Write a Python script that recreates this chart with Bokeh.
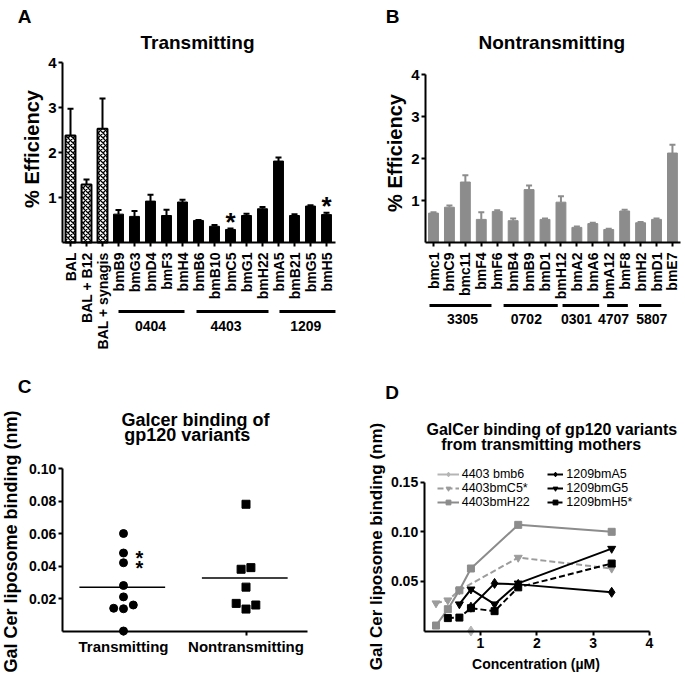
import numpy as np
from bokeh.plotting import figure
from bokeh.layouts import row, column
from bokeh.models import (ColumnDataSource, FixedTicker, Whisker, TeeHead, Label,
                          Range1d, Legend, LegendItem, NumeralTickFormatter)
from bokeh.core.properties import value
from bokeh.embed import file_html
from bokeh.resources import INLINE

FONT = "Liberation Sans"

# ---------------- data ----------------
# Panel A: transmitting
a_names = ["BAL", "BAL + B12", "BAL + synagis", "bmB9", "bmG3", "bmD4", "bmF3", "bmH4",
           "bmB6", "bmB10", "bmC5", "bmG1", "bmH22", "bmA5", "bmB21", "bmG5", "bmH5"]
a_vals = [2.38, 1.29, 2.53, 0.63, 0.58, 0.92, 0.60, 0.90, 0.49, 0.36, 0.29, 0.60, 0.75,
          1.81, 0.60, 0.81, 0.62]
a_err = [2.97, 1.40, 3.20, 0.72, 0.70, 1.06, 0.73, 0.95, 0.50, 0.39, 0.31, 0.64, 0.79,
         1.89, 0.63, 0.83, 0.66]
a_starred = ["bmC5", "bmH5"]
a_groups = ["0404", "4403", "1209"]
a_group_start = [3.0, 7.875, 13.06]
a_group_end = [7.125, 12.375, 16.56]
a_group_center = [5.0, 9.72, 14.7]

# Panel B: nontransmitting
b_names = ["bmc1", "bmC9", "bmc11", "bmF4", "bmF6", "bmB4", "bmB9", "bmD1", "bmH12",
           "bmA2", "bmA6", "bmA12", "bmF8", "bmH2", "bmD1", "bmE7"]
b_vals = [0.70, 0.84, 1.44, 0.55, 0.74, 0.52, 1.26, 0.55, 0.96, 0.36, 0.45, 0.31, 0.75,
          0.47, 0.55, 2.13]
b_err = [0.72, 0.88, 1.60, 0.72, 0.77, 0.57, 1.36, 0.57, 1.10, 0.38, 0.47, 0.33, 0.78,
         0.49, 0.57, 2.33]
b_groups = ["3305", "0702", "0301", "4707", "5807"]
b_group_start = [-0.25, 4.4, 8.1, 10.9, 12.9]
b_group_end = [3.64, 7.8, 10.4, 12.2, 14.3]
b_group_center = [1.82, 5.83, 8.98, 11.3, 13.7]

# Panel C: GalCer binding scatter
c_cats = ["Transmitting", "Nontransmitting"]
c_trans = [0.060, 0.048, 0.042, 0.028, 0.021, 0.014, 0.0137, 0.016, 0.0]
c_trans_jitter = [0, 0, 0, 0, 0, -0.08, 0, 0.08, 0]
c_trans_star = [False, True, True, False, False, False, False, False, False]
c_non = [0.078, 0.038, 0.039, 0.027, 0.017, 0.0135, 0.016]
c_non_jitter = [0, -0.04, 0.04, 0, -0.08, 0, 0.08]

# Panel D: binding vs concentration
d_labels = ["4403 bmb6", "4403bmC5*", "4403bmH22", "1209bmA5", "1209bmG5", "1209bmH5*"]
d_bmb6_x = [0.83]
d_bmb6_y = [0.0]
d_c5_x = [0.21, 0.42, 0.625, 1.67, 3.33]
d_c5_y = [0.028, 0.031, 0.041, 0.074, 0.063]
d_h22_x = [0.21, 0.42, 0.625, 0.83, 1.67, 3.33]
d_h22_y = [0.0055, 0.022, 0.041, 0.063, 0.107, 0.100]
d_a5_x = [0.83, 1.25, 1.67, 3.33]
d_a5_y = [0.024, 0.048, 0.047, 0.039]
d_g5_x = [0.625, 0.83, 1.25, 1.67, 3.33]
d_g5_y = [0.027, 0.042, 0.027, 0.048, 0.083]
d_h5_x = [0.42, 0.625, 0.83, 1.25, 1.67, 3.33]
d_h5_y = [0.013, 0.0135, 0.023, 0.020, 0.044, 0.068]


# ---------------- helpers ----------------
def base_fig(w, h, x0, ppx, y0, ppy):
    """Frame covers the whole figure; data 0 sits at local pixel (x0, y0 from top)."""
    xr = Range1d(-x0 / ppx, (w - x0) / ppx)
    yr = Range1d(-(h - y0) / ppy, y0 / ppy)
    p = figure(width=w, height=h, x_range=xr, y_range=yr, title=None,
               output_backend="svg", toolbar_location=None,
               min_border_left=0, min_border_right=0, min_border_top=0,
               min_border_bottom=0)
    p.outline_line_color = None
    p.grid.visible = False
    for ax in p.axis:
        ax.axis_line_width = 2
        ax.axis_line_color = "black"
        ax.major_tick_line_width = 2
        ax.major_tick_line_color = "black"
        ax.major_tick_out = 4
        ax.major_tick_in = 0
        ax.minor_tick_line_color = None
        ax.major_label_text_font = FONT
        ax.major_label_text_font_style = "bold"
        ax.major_label_text_font_size = "14px"
        ax.major_label_text_color = "black"
        ax.major_label_standoff = 3
    return p


def add_label(p, text, x, y, size, angle=0.0, bold=True):
    # x, y: pixel position inside the figure, measured from its top-left corner
    p.add_layout(Label(x=x, y=p.height - y, x_units="screen", y_units="screen", text=text,
                       text_font=FONT, text_font_size=size,
                       text_font_style="bold" if bold else "normal",
                       text_align="center", text_baseline="middle", angle=angle,
                       text_color="black"))


def bar_panel(p, names, vals, errs, fill, hatched, line_color, xbounds):
    idx = list(range(len(names)))
    src = ColumnDataSource(dict(x=idx, top=vals, err=errs))
    solid = [i for i in idx if not hatched[i]]
    hat = [i for i in idx if hatched[i]]
    if solid:
        p.vbar(x=solid, top=[vals[i] for i in solid], width=0.62,
               fill_color=fill, line_color=fill, line_width=1)
    if hat:
        p.vbar(x=hat, top=[vals[i] for i in hat], width=0.62,
               fill_color="white", line_color="black", line_width=2,
               hatch_pattern="x", hatch_color="black", hatch_scale=5, hatch_weight=1.3)
    p.add_layout(Whisker(source=src, base="x", upper="err", lower="top", dimension="height",
                         line_width=2, line_color=line_color,
                         upper_head=TeeHead(size=6, line_width=2, line_color=line_color),
                         lower_head=None))
    p.xaxis.fixed_location = 0
    p.xaxis.bounds = xbounds
    p.xaxis.ticker = FixedTicker(ticks=idx)
    p.xaxis.major_label_overrides = {i: n for i, n in enumerate(names)}
    p.xaxis.major_label_orientation = np.pi / 2
    p.xaxis.major_label_standoff = 6
    p.yaxis.fixed_location = -0.5
    p.yaxis.bounds = (0, 4)
    p.yaxis.ticker = FixedTicker(ticks=[1, 2, 3, 4])
    p.yaxis.major_label_standoff = 2
    p.yaxis.major_label_text_font_size = "15px"


def groups(p, starts, ends, centers, names, yline, ytext):
    p.segment(x0=starts, y0=[yline] * len(starts), x1=ends, y1=[yline] * len(starts),
              line_width=3, line_color="black")
    p.text(x=centers, y=[ytext] * len(centers), text=names, text_font=value(FONT),
           text_font_style="bold", text_font_size="14px", text_align="center",
           text_baseline="middle", text_color="black")


# ---------------- Panel A ----------------
pA = base_fig(340, 352, 70, 16.0, 242, 45.0)
bar_panel(pA, a_names, a_vals, a_err, "black",
          [n.startswith("BAL") for n in a_names], "black", (-0.5, 16.56))
groups(pA, a_group_start, a_group_end, a_group_center, a_groups, -1.533, -1.86)
star_idx = [a_names.index(n) for n in a_starred]
pA.text(x=star_idx, y=[a_err[i] for i in star_idx], text=["*"] * len(star_idx),
        y_offset=-7, text_font=value(FONT), text_font_style="bold", text_font_size="26px",
        text_align="center", text_baseline="middle", text_color="black")
add_label(pA, "A", 24, 16, "19px")
add_label(pA, "Transmitting", 197, 42, "19px")
add_label(pA, "% Efficiency", 31, 148.5, "20px", angle=np.pi / 2)

# ---------------- Panel B ----------------
pB = base_fig(345, 352, 93, 15.93, 242, 42.0)
bar_panel(pB, b_names, b_vals, b_err, "#8c8c8c", [False] * len(b_names), "#8c8c8c",
          (-0.5, 15.5))
groups(pB, b_group_start, b_group_end, b_group_center, b_groups, -1.5, -1.82)
add_label(pB, "B", 52, 16, "19px")
add_label(pB, "Nontransmitting", 211.3, 42, "19px")
add_label(pB, "% Efficiency", 54, 152.5, "20px", angle=np.pi / 2)

# ---------------- Panel C ----------------
pC = base_fig(340, 321, 0.5, 122.5, 278.5, 1625.0)
tx = [1 + j for j in c_trans_jitter]
nx = [2 + j for j in c_non_jitter]
pC.scatter(tx, c_trans, marker="circle", size=8, color="black")
pC.scatter(nx, c_non, marker="square", size=8, color="black")
for xc, vals in ((1, c_trans), (2, c_non)):
    m = float(np.mean(vals))
    pC.segment(x0=[xc - 0.36], y0=[m], x1=[xc + 0.34], y1=[m], line_width=1.5,
               line_color="black")
sy = [v for v, s in zip(c_trans, c_trans_star) if s]
pC.text(x=[1] * len(sy), y=sy, text=["*"] * len(sy), x_offset=16, y_offset=5,
        text_font=value(FONT), text_font_style="bold", text_font_size="20px",
        text_align="center", text_baseline="middle", text_color="black")
pC.xaxis.fixed_location = 0
pC.xaxis.bounds = (0.5, 2.5)
pC.xaxis.ticker = FixedTicker(ticks=[1, 2])
pC.xaxis.major_label_overrides = {1: c_cats[0], 2: c_cats[1]}
pC.xaxis.major_label_text_font_size = "15px"
pC.yaxis.fixed_location = 0.5
pC.yaxis.ticker = FixedTicker(ticks=[0.02, 0.04, 0.06, 0.08, 0.10])
pC.yaxis.formatter = NumeralTickFormatter(format="0.00")
pC.yaxis.bounds = (0, 0.10)
pC.yaxis.major_label_standoff = 2
add_label(pC, "C", 24, 33.5, "19px")
add_label(pC, "Galcer binding of", 195, 67, "18px")
add_label(pC, "gp120 variants", 186.7, 82.2, "18px")
add_label(pC, "Gal Cer liposome binding (nm)", 10, 189, "18px", angle=np.pi / 2)

# ---------------- Panel D ----------------
pD = base_fig(345, 321, 83.7, 56.3, 278.5, 992.0)
d_series = [(d_bmb6_x, d_bmb6_y), (d_c5_x, d_c5_y), (d_h22_x, d_h22_y),
            (d_a5_x, d_a5_y), (d_g5_x, d_g5_y), (d_h5_x, d_h5_y)]
d_colors = ["#b5b5b5", "#9c9c9c", "#8c8c8c", "black", "black", "black"]
d_dash = ["solid", "6 3", "solid", "solid", "solid", "6 3"]
d_markers = ["diamond", "inverted_triangle", "square", "diamond", "inverted_triangle", "square"]
d_sizes = [10, 8, 7, 10, 8, 7]
items = []
for (xs, ys), lab, col, dash, mk, sz in zip(d_series, d_labels, d_colors, d_dash,
                                            d_markers, d_sizes):
    lr = pD.line(xs, ys, line_color=col, line_width=2, line_dash=dash)
    sr = pD.scatter(xs, ys, marker=mk, size=sz, color=col)
    items.append(LegendItem(label=lab, renderers=[lr, sr]))
# one single-entry legend per row so that the rows sit as tightly as in the original
row_centers = [122.0, 136.0, 150.0]
for k, it in enumerate(items):
    col_x, gw = (96.7, 22) if k < 3 else (207.3, 16)
    yc = row_centers[k % 3]
    lg = Legend(items=[it], location=(col_x, 321 - (yc + 7.0)), orientation="vertical",
                border_line_color=None, background_fill_alpha=0, margin=0, padding=0,
                spacing=0, glyph_width=gw, glyph_height=12, label_height=12,
                label_standoff=3, label_text_font=FONT, label_text_font_size="12.5px",
                label_text_color="black", label_text_baseline="middle")
    pD.add_layout(lg)
pD.xaxis.fixed_location = 0
pD.xaxis.bounds = (0, 4)
pD.xaxis.ticker = FixedTicker(ticks=[1, 2, 3, 4])
pD.yaxis.fixed_location = 0
pD.yaxis.ticker = FixedTicker(ticks=[0.05, 0.10, 0.15])
pD.yaxis.formatter = NumeralTickFormatter(format="0.00")
pD.yaxis.bounds = (0, 0.15)
pD.yaxis.major_label_standoff = 2
add_label(pD, "D", 51.7, 40, "19px")
add_label(pD, "GalCer binding of gp120 variants", 211.3, 76.7, "16px")
add_label(pD, "from transmitting mothers", 200.7, 92.2, "16px")
add_label(pD, "Gal Cer liposome binding (nm)", 36, 194, "17px", angle=np.pi / 2)
add_label(pD, "Concentration (µM)", 195.5, 311.5, "14px")

layout = column(row(pA, pB), row(pC, pD))
open("out.html", "w").write(file_html(layout, INLINE))
